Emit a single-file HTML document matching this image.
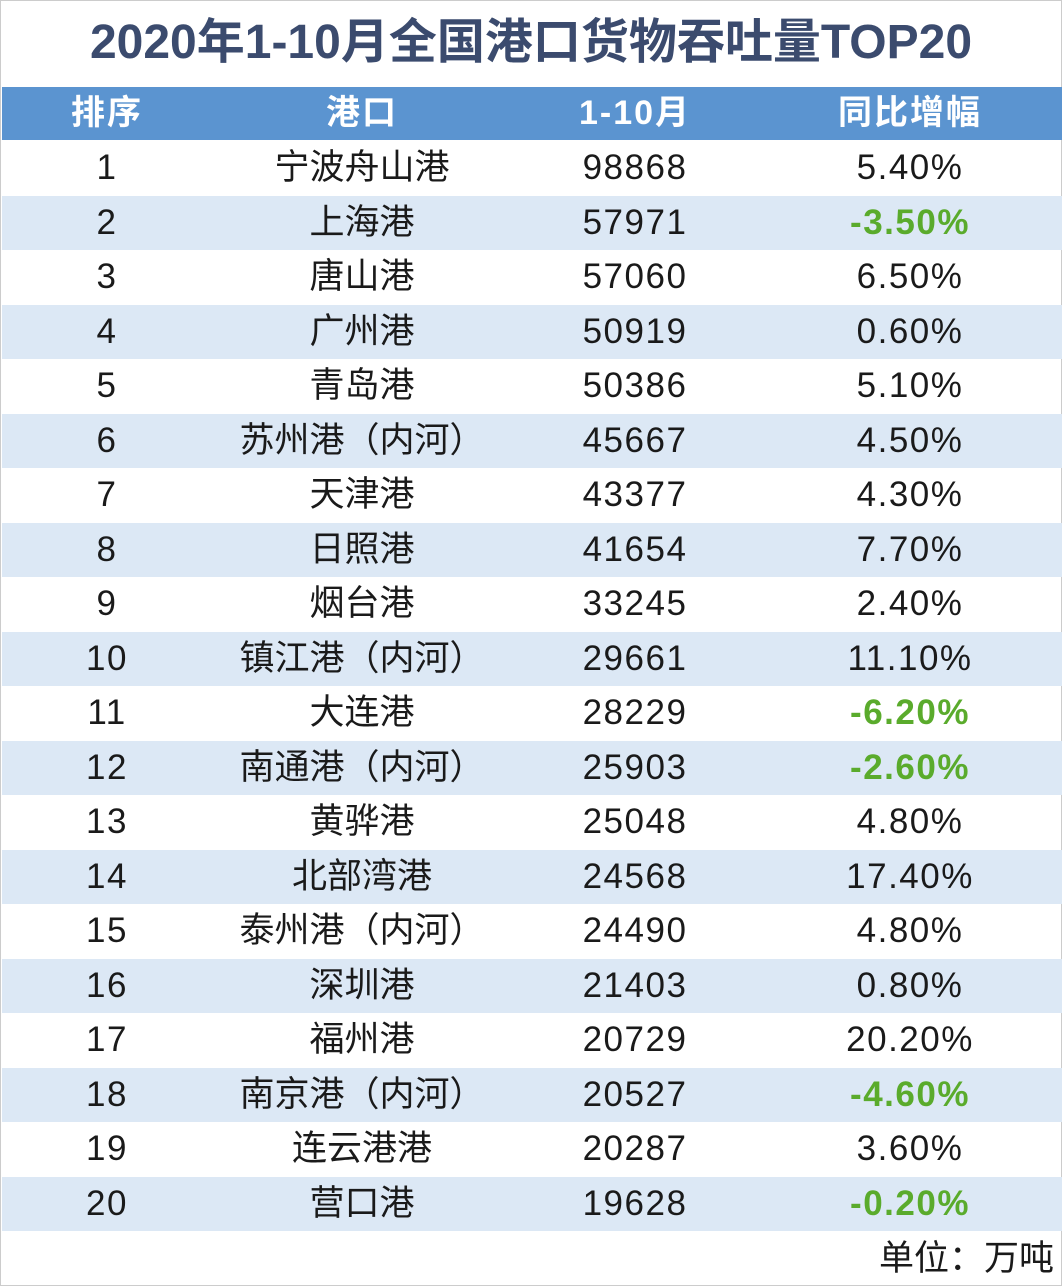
<!DOCTYPE html>
<html><head><meta charset="utf-8">
<style>
body{margin:0;width:1062px;height:1286px;background:#fff;overflow:hidden;font-family:"Liberation Sans","Noto Sans CJK SC",sans-serif;position:relative}
.border{position:absolute;left:0;top:0;width:1060px;height:1284px;border:1px solid #ccc}
#title{position:absolute;left:0;width:1062px;top:8px;height:70px;text-align:center;font-size:48px;font-weight:bold;color:#3b4b6e;line-height:70px}
#header{position:absolute;left:2px;right:0;top:87px;height:53px;background:#5b94d0;color:#fff;font-weight:bold;font-size:34px;letter-spacing:2px}
.c{position:absolute;top:0;height:100%;text-align:center;white-space:nowrap}
.num{letter-spacing:1.5px}
.row{position:absolute;left:2px;right:0;height:54.5px;font-size:35px;color:#1a1a1a}
.alt{background:#dce8f5}
.neg{color:#5aab2c;font-weight:bold}
#unit{position:absolute;right:8px;top:1234px;font-size:35px;color:#1a1a1a;line-height:50px}
</style></head><body>
<div class="border"></div>
<div id="title">2020年1-10月全国港口货物吞吐量TOP20</div>
<div id="header">
<div class="c" style="left:45px;width:120px;line-height:53px">排序</div>
<div class="c" style="left:260px;width:200px;line-height:53px">港口</div>
<div class="c" style="left:533px;width:200px;line-height:53px">1-10月</div>
<div class="c" style="left:808px;width:200px;line-height:53px">同比增幅</div>
</div>
<div id="rows"></div>
<div id="unit">单位：万吨</div>
<script>
const ports=["宁波舟山港","上海港","唐山港","广州港","青岛港","苏州港（内河）","天津港","日照港","烟台港","镇江港（内河）","大连港","南通港（内河）","黄骅港","北部湾港","泰州港（内河）","深圳港","福州港","南京港（内河）","连云港港","营口港"];
const values=[98868,57971,57060,50919,50386,45667,43377,41654,33245,29661,28229,25903,25048,24568,24490,21403,20729,20527,20287,19628];
const growth=[5.40,-3.50,6.50,0.60,5.10,4.50,4.30,7.70,2.40,11.10,-6.20,-2.60,4.80,17.40,4.80,0.80,20.20,-4.60,3.60,-0.20];
const wrap=document.getElementById('rows');
const top0=141,rh=54.5;
ports.forEach((p,i)=>{
  const r=document.createElement('div');
  
  
  r.className='row'+(i%2?' alt':'');
  r.style.top=(top0+i*rh)+'px';
  r.style.lineHeight=rh+'px';
  const cells=[[String(i+1),45,120,'rank'],[p,210,300,'port'],[String(values[i]),533,200,'value'],[growth[i].toFixed(2)+'%',808,200,'growth']];
  cells.forEach(c=>{
    const d=document.createElement('div');
    
    
    d.className='c'+(c[3]!=='port'?' num':'')+(c[3]==='growth'&&growth[i]<0?' neg':'');
    d.style.left=c[1]+'px';d.style.width=c[2]+'px';
    d.textContent=c[0];
    r.appendChild(d);
  });
  wrap.appendChild(r);
});
</script>
</body></html>
